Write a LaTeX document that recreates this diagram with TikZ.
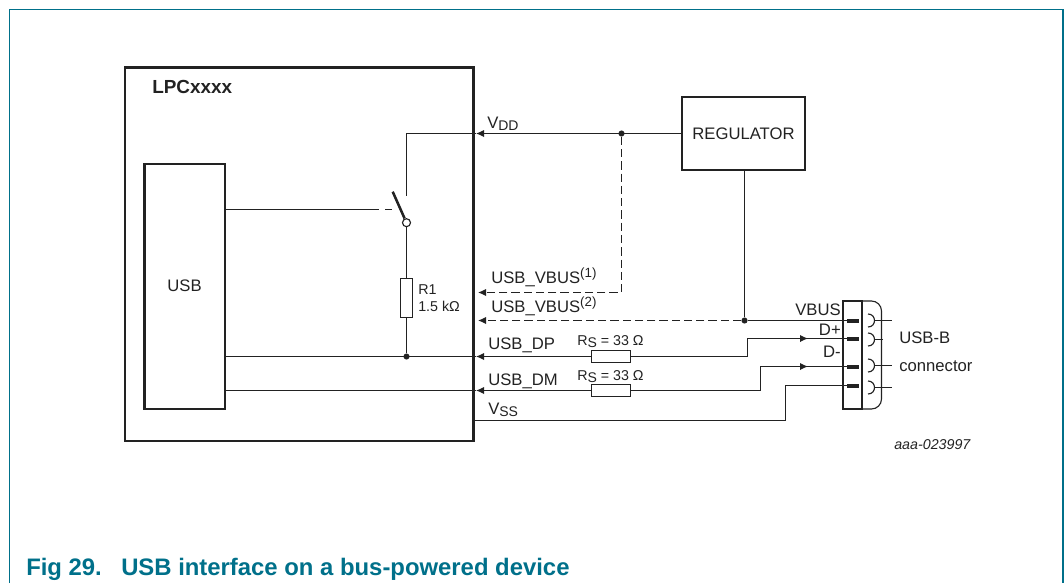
\documentclass[tikz,border=0pt]{standalone}
\usepackage{fontspec}
\setmainfont{Liberation Sans}
\usetikzlibrary{arrows.meta}
\definecolor{nxp}{HTML}{00708A}
\definecolor{ink}{HTML}{222222}
\newcommand{\lowtxt}[1]{\raisebox{-0.3ex}{\fontsize{10.5pt}{12pt}\selectfont #1}}
\newcommand{\hightxt}[1]{\raisebox{0.62ex}{\fontsize{10pt}{12pt}\selectfont #1}}
\tikzset{
  boxnode/.style={draw=ink,inner sep=0pt,outer sep=0pt},
  wire/.style={draw=ink,line width=0.85pt},
  dashwire/.style={wire,dash pattern=on 6.2pt off 3pt},
  tipwire/.style={wire,-{Latex[length=6pt,width=5.5pt]}},
  dotnode/.style={circle,fill=ink,inner sep=0pt,minimum size=4.6pt},
  padnode/.style={fill=ink,inner sep=0pt,outer sep=0pt,minimum width=9pt,minimum height=3pt},
  resnode/.style={boxnode,fill=white,line width=0.85pt},
  lab/.style={anchor=base west,inner sep=0pt,text=ink,font=\fontsize{12.5pt}{14pt}\selectfont},
  labr/.style={lab,anchor=base east},
  small/.style={lab,font=\fontsize{10.7pt}{12pt}\selectfont},
  captxt/.style={anchor=base west,inner sep=0pt,text=nxp,font=\bfseries\fontsize{17.9pt}{20pt}\selectfont},
}
\begin{document}
\begin{tikzpicture}[x=0.75pt,y=-0.75pt]
\useasboundingbox (0,0) rectangle (1064,583);
% frame
\draw[nxp,line width=1.2pt] (9.5,583) -- (9.5,9.5) -- (1063,9.5) -- (1063,583);
\node[captxt] (figno) at (26,575) {Fig 29.};
\node[captxt] (figtitle) at (121,575) {USB interface on a bus-powered device};
% boxes
\node[boxnode,line width=1.9pt,minimum width=261.4pt,minimum height=280.1pt] (chip) at (299.25,254.25) {};
\node[lab,font=\bfseries\fontsize{14.2pt}{16pt}\selectfont] (lpc) at (152,93) {LPCxxxx};
\node[boxnode,line width=1.7pt,minimum width=60.4pt,minimum height=183.75pt] (usb) at (184.75,286.5) {};
\node[anchor=center,inner sep=0pt,text=ink,font=\fontsize{12.5pt}{14pt}\selectfont] (usbl) at (184.5,286) {USB};
\node[boxnode,line width=1.9pt,minimum width=92.25pt,minimum height=54.75pt,text=ink,font=\fontsize{12.5pt}{14pt}\selectfont] (reg) at (743.5,133.5) {REGULATOR};
% connector
\node[boxnode,line width=0.85pt,minimum width=14.25pt,minimum height=81pt] (conn) at (852.5,355) {};
\draw[wire,rounded corners=7.5pt] (conn.north east) -- (881.5,301) -- (881.5,409) -- (conn.south east);
\node[padnode] (p1) at (853,320.5) {};
\node[padnode] (p2) at (853,338.5) {};
\node[padnode] (p3) at (853,366.5) {};
\node[padnode] (p4) at (853,385.5) {};
\foreach \yy/\xe in {320.5/891.7,339.5/882.7,365.5/891.7,387.5/891.7}{
  \draw[wire] (868,\yy-6.5) .. controls (872.5,\yy-6.5) and (874.5,\yy-3) .. (874.5,\yy) .. controls (874.5,\yy+3) and (872.5,\yy+6.5) .. (868,\yy+6.5);
  \draw[wire] (874.5,\yy) -- (\xe,\yy);
}
% coordinates
\node[dotnode] (dota) at (621.5,133.5) {};
\node[dotnode] (dotb) at (744.5,320.5) {};
\node[dotnode] (dotc) at (406.5,356.5) {};
\node[circle,draw=ink,fill=white,line width=0.85pt,inner sep=0pt,minimum size=6pt] (sw) at (406.5,222.7) {};
\node[resnode,minimum width=8.7pt,minimum height=29.2pt] (r1) at (406.5,297.6) {};
\node[resnode,minimum width=29pt,minimum height=8.6pt] (rsa) at (611,356.5) {};
\node[resnode,minimum width=29pt,minimum height=8.6pt] (rsb) at (611,390.5) {};
% VDD
\draw[tipwire] (reg.west |- dota) -- (476,133.5);
\draw[wire] (476,133.5) -- (406.5,133.5) -- (406.5,196);
% switch
\draw[ink,line width=1.9pt] (392.7,191.7) -- (sw);
\draw[wire] (usb.east |- 0,209.5) -- (379,209.5);
\draw[wire] (385,209.5) -- (392,209.5);
\draw[wire] (sw) -- (r1.north);
\draw[wire] (r1.south) -- (dotc);
% dashed VBUS
\draw[dashwire] (dota) -- (621.5,292.5) -- (484,292.5);
\draw[tipwire] (484,292.5) -- (478,292.5);
\draw[dashwire] (dotb) -- (484,320.5);
\draw[tipwire] (484,320.5) -- (478,320.5);
\draw[wire] (reg.south -| dotb) -- (dotb);
\draw[wire] (dotb) -- (p1.west);
% DP
\draw[wire] (p2.west) -- (747.5,338.5) -- (747.5,356.5) -- (rsa.east);
\draw[tipwire] (747.5,338.5) -- (808,338.5);
\draw[tipwire] (rsa.west) -- (476,356.5);
\draw[wire] (476,356.5) -- (usb.east |- 0,356.5);
% DM
\draw[wire] (p3.west) -- (760.5,366.5) -- (760.5,390.5) -- (rsb.east);
\draw[tipwire] (760.5,366.5) -- (808,366.5);
\draw[tipwire] (rsb.west) -- (476,390.5);
\draw[wire] (476,390.5) -- (usb.east |- 0,390.5);
% VSS
\draw[wire] (chip.east |- 0,420.5) -- (785.5,420.5) -- (785.5,385.5) -- (p4.west);
% labels
\node[lab] (lvdd) at (487,128) {V\lowtxt{DD}};
\node[lab] (lv1) at (491,283) {USB\_VBUS\hightxt{(1)}};
\node[lab] (lv2) at (491,312) {USB\_VBUS\hightxt{(2)}};
\node[lab] (ldp) at (488,349) {USB\_DP};
\node[lab] (ldm) at (488,385) {USB\_DM};
\node[lab] (lvss) at (488,414) {V\lowtxt{SS}};
\node[small] (lr1) at (418,294) {R1};
\node[small] (lk) at (418,311) {1.5 kΩ};
\node[small] (lrsa) at (577,345) {R\lowtxt{S} = 33 Ω};
\node[small] (lrsb) at (577,380) {R\lowtxt{S} = 33 Ω};
\node[labr] (lvb) at (841,315) {VBUS};
\node[labr] (ldplus) at (841,335) {D+};
\node[labr] (ldminus) at (841,357) {D-};
\node[lab] (lusbb) at (899,343) {USB-B};
\node[lab] (lcon) at (899,371) {connector};
\node[lab,font=\itshape\fontsize{10.7pt}{12pt}\selectfont] (laaa) at (894,449) {aaa-023997};
\end{tikzpicture}
\end{document}
